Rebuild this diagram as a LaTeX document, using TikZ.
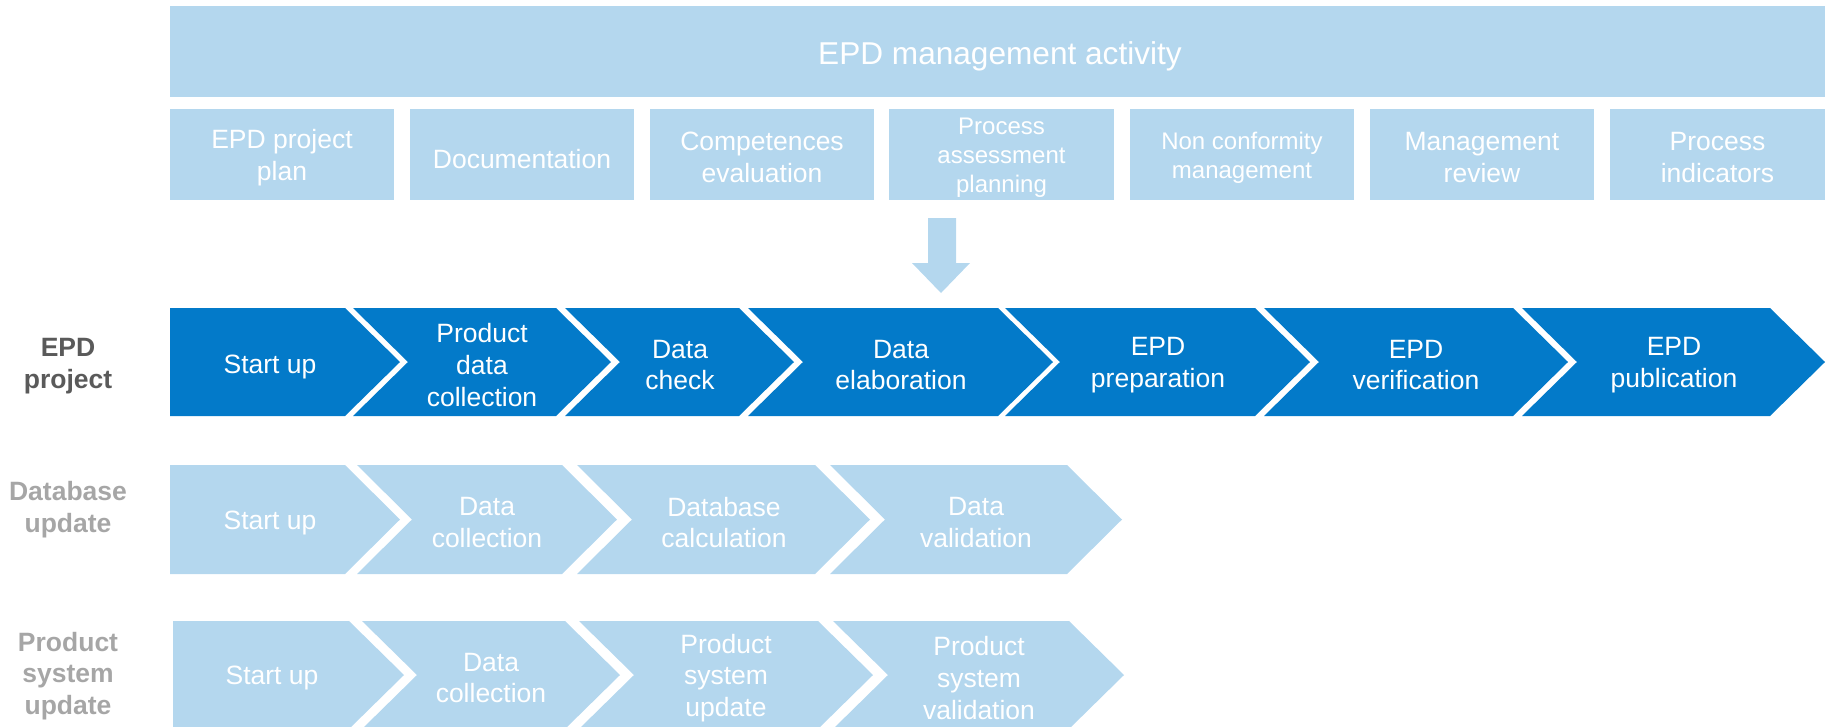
\documentclass[tikz,border=0pt]{standalone}
\usepackage{fontspec}
\setmainfont{Liberation Sans}
\definecolor{darkb}{RGB}{3,122,201}
\definecolor{lightb}{RGB}{180,215,238}
\definecolor{lbldark}{RGB}{90,90,90}
\definecolor{lblgray}{RGB}{166,166,166}
\newcommand\mychev[5]{\fill[#5] (#1,#3) -- (#2,#3) -- ({#2+55},{(#3+#4)/2}) -- (#2,#4) -- (#1,#4) -- ({#1+55},{(#3+#4)/2}) -- cycle;}
\newcommand\myhome[5]{\fill[#5] (#1,#3) -- (#2,#3) -- ({#2+55},{(#3+#4)/2}) -- (#2,#4) -- (#1,#4) -- cycle;}
\tikzset{
  txt/.style={align=center, text=white, font=\fontsize{26.5}{31.8}\selectfont, inner sep=0pt, yshift=-3pt},
  smalltxt/.style={align=center, text=white, font=\fontsize{24}{29}\selectfont, inner sep=0pt, yshift=-3.5pt},
  bigtxt/.style={align=center, text=white, font=\fontsize{31.6}{38}\selectfont, inner sep=0pt, yshift=-4.5pt},
  oneline/.style={yshift=-1.5pt},
  subbox/.style={fill=lightb, minimum width=224pt, minimum height=91pt, inner sep=0pt},
  lbl/.style={align=center, font=\bfseries\fontsize{26.5}{31.8}\selectfont, inner sep=0pt},
}
\begin{document}
\begin{tikzpicture}[x=1pt,y=-1pt]
\useasboundingbox (0,0) rectangle (1832,726);
% top bar
\node[fill=lightb, minimum width=1655pt, minimum height=91pt, inner sep=0pt] (top) at (997.5,51.5) {};
\node[bigtxt] (toptxt) at (1000,51.5) {EPD management activity};
% sub boxes
\fill[lightb] (170,109) rectangle (394,200);
\fill[lightb] (410,109) rectangle (634,200);
\fill[lightb] (650,109) rectangle (874,200);
\fill[lightb] (889,109) rectangle (1114,200);
\fill[lightb] (1130,109) rectangle (1354,200);
\fill[lightb] (1370,109) rectangle (1594,200);
\fill[lightb] (1610,109) rectangle (1825,200);
\node[txt] (s1) at (282,154.5) {EPD project\\plan};
\node[txt, oneline] (s2) at (522,154.5) {Documentation};
\node[txt] (s3) at (762,154.5) {Competences\\evaluation};
\node[smalltxt] (s4) at (1001.5,154.5) {Process\\assessment\\planning};
\node[smalltxt] (s5) at (1242,154.5) {Non conformity\\management};
\node[txt] (s6) at (1482,154.5) {Management\\review};
\node[txt] (s7) at (1717.5,154.5) {Process\\indicators};
% block arrow
\fill[lightb] (928,218) -- (956,218) -- (956,263) -- (970,263) -- (941,293) -- (912,263) -- (928,263) -- cycle;
% row 1
\myhome{170}{345}{308}{416}{darkb}
\mychev{353}{556}{308}{416}{darkb}
\mychev{565}{739}{308}{416}{darkb}
\mychev{748}{998}{308}{416}{darkb}
\mychev{1005}{1255}{308}{416}{darkb}
\mychev{1264}{1513}{308}{416}{darkb}
\mychev{1522}{1770}{308}{416}{darkb}
\node[txt, oneline] (a1) at (270,362) {Start up};
\node[txt] (a2) at (482,362) {Product\\data\\collection};
\node[txt] (a3) at (680,362) {Data\\check};
\node[txt] (a4) at (901,362) {Data\\elaboration};
\node[txt] (a5) at (1158,362) {EPD\\preparation};
\node[txt] (a6) at (1416,362) {EPD\\verification};
\node[txt] (a7) at (1674,362) {EPD\\publication};
% row 2
\myhome{170}{345}{465}{574}{lightb}
\mychev{357}{562}{465}{574}{lightb}
\mychev{577}{815}{465}{574}{lightb}
\mychev{830}{1067}{465}{574}{lightb}
\node[txt] (b1) at (270,519.5) {Start up};
\node[txt] (b2) at (487,519.5) {Data\\collection};
\node[txt] (b3) at (724,519.5) {Database\\calculation};
\node[txt] (b4) at (976,519.5) {Data\\validation};
% row 3
\myhome{173}{349}{621}{729}{lightb}
\mychev{362}{565}{621}{729}{lightb}
\mychev{579}{818}{621}{729}{lightb}
\mychev{833}{1069}{621}{729}{lightb}
\node[txt] (c1) at (272,675) {Start up};
\node[txt] (c2) at (491,675) {Data\\collection};
\node[txt] (c3) at (726,675) {Product\\system\\update};
\node[txt] (c4) at (979,675) {Product\\system\\validation};
% left labels
\node[lbl, text=lbldark] (l1) at (68,366.5) {EPD\\project};
\node[lbl, text=lblgray] (l2) at (68,510) {Database\\update};
\node[lbl, text=lblgray] (l3) at (68,676) {Product\\system\\update};
\end{tikzpicture}
\end{document}
